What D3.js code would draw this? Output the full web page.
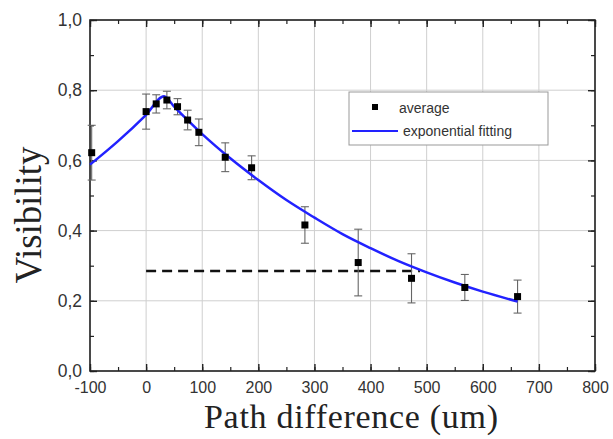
<!DOCTYPE html>
<html><head><meta charset="utf-8">
<script src="https://cdn.jsdelivr.net/npm/d3@7"></script>
<style>body{margin:0;background:#fff}svg{display:block}</style>
</head><body>
<svg id="c" width="613" height="439"></svg>
<script>
// Measured data (averages with error bars)
const xs   = [-97, 0, 18, 37, 56, 74, 94, 141, 188, 283, 378, 473, 568, 662];
const ys   = [0.622, 0.739, 0.761, 0.772, 0.753, 0.715, 0.680, 0.609, 0.579, 0.416, 0.309, 0.264, 0.238, 0.212];
const errs = [0.078, 0.050, 0.026, 0.025, 0.023, 0.028, 0.038, 0.041, 0.034, 0.052, 0.095, 0.070, 0.037, 0.047];
// Exponential fitting curve
const fitX = [-100, -50, 0, 32, 50, 100, 150, 200, 250, 300, 350, 400, 450, 500, 550, 600, 662];
const fitY = [0.588, 0.655, 0.730, 0.783, 0.753, 0.675, 0.606, 0.544, 0.487, 0.437, 0.390, 0.350, 0.313, 0.281, 0.252, 0.226, 0.198];
// Dashed reference line
const dashX = [0, 488];
const dashY = [0.285, 0.285];
const xTicks = [-100, 0, 100, 200, 300, 400, 500, 600, 700, 800];
const yTicks = [0, 0.2, 0.4, 0.6, 0.8, 1.0];

const svg = d3.select("#c");
const L = 90, R = 595, T = 20, B = 371;
const x = d3.scaleLinear().domain([-100, 800]).range([L, R]);
const y = d3.scaleLinear().domain([0, 1]).range([B, T]);
const fmt = d => d3.format(".1f")(d).replace(".", ",");

// grid
const g = svg.append("g");
g.selectAll(".gx").data(xTicks).join("line")
  .attr("x1", d => x(d)).attr("x2", d => x(d)).attr("y1", T).attr("y2", B)
  .attr("stroke", "#cfcfcf").attr("stroke-width", 1);
g.selectAll(".gy").data(yTicks).join("line")
  .attr("x1", L).attr("x2", R).attr("y1", d => y(d)).attr("y2", d => y(d))
  .attr("stroke", "#cfcfcf").attr("stroke-width", 1);

// axes (ticks inside)
const minorX = d3.range(-100, 801, 50);
const minorY = d3.range(0, 1.001, 0.1);
function addAxis(axisGen, tr, major, minor, showLabels) {
  const a = svg.append("g").attr("transform", tr);
  a.call(axisGen.tickValues(minor).tickSize(-4).tickFormat(""));
  a.select(".domain").remove();
  a.selectAll("line").attr("stroke", "#222").attr("stroke-width", 1.2);
  const b = svg.append("g").attr("transform", tr);
  b.call(axisGen.tickValues(major).tickSize(-7).tickPadding(8).tickFormat(showLabels));
  b.select(".domain").remove();
  b.selectAll("line").attr("stroke", "#222").attr("stroke-width", 1.4);
  b.selectAll("text").attr("font-family", "Liberation Sans, Arial, sans-serif")
    .attr("font-size", 16).attr("fill", "#333");
  return b;
}
const bx = addAxis(d3.axisBottom(x), `translate(0,${B})`, xTicks, minorX, d => d);
bx.selectAll("text").attr("dy", "0.9em").attr("y", 8);
addAxis(d3.axisTop(x), `translate(0,${T})`, xTicks, minorX, () => "");
const ly = addAxis(d3.axisLeft(y), `translate(${L},0)`, yTicks, minorY, fmt);
ly.selectAll("text").attr("x", -8).attr("font-size", 17.5);
addAxis(d3.axisRight(y), `translate(${R},0)`, yTicks, minorY, () => "");

// frame
svg.append("rect").attr("x", L).attr("y", T).attr("width", R - L).attr("height", B - T)
  .attr("fill", "none").attr("stroke", "#222").attr("stroke-width", 1.6);

// dashed line
svg.append("path")
  .attr("d", d3.line()(dashX.map((d, i) => [x(d), y(dashY[i])])))
  .attr("stroke", "#111").attr("stroke-width", 2.5).attr("stroke-dasharray", "10,6").attr("fill", "none");

// error bars
const eb = svg.append("g").attr("stroke", "#666").attr("stroke-width", 1.1);
xs.forEach((xv, i) => {
  const cx = x(xv), top = y(ys[i] + errs[i]), bot = y(ys[i] - errs[i]);
  eb.append("line").attr("x1", cx).attr("x2", cx).attr("y1", top).attr("y2", bot);
  eb.append("line").attr("x1", cx - 4).attr("x2", cx + 4).attr("y1", top).attr("y2", top);
  eb.append("line").attr("x1", cx - 4).attr("x2", cx + 4).attr("y1", bot).attr("y2", bot);
});

// fit curve
svg.append("path")
  .attr("d", d3.line().curve(d3.curveMonotoneX)(fitX.map((d, i) => [x(d), y(fitY[i])])))
  .attr("stroke", "#2222ff").attr("stroke-width", 2.5).attr("fill", "none");

// markers
svg.selectAll(".pt").data(xs).join("rect")
  .attr("x", (d) => x(d) - 3.5).attr("y", (d, i) => y(ys[i]) - 3.5)
  .attr("width", 7).attr("height", 7).attr("fill", "#000");

// legend
const lg = svg.append("g");
lg.append("rect").attr("x", 349).attr("y", 92).attr("width", 199).attr("height", 53)
  .attr("fill", "#fff").attr("stroke", "#999").attr("stroke-width", 1);
lg.append("rect").attr("x", 372).attr("y", 104).attr("width", 6).attr("height", 6).attr("fill", "#000");
lg.append("text").attr("x", 399).attr("y", 113).text("average")
  .attr("font-family", "Liberation Sans, Arial, sans-serif").attr("font-size", 14).attr("fill", "#333");
lg.append("line").attr("x1", 352).attr("x2", 398).attr("y1", 131).attr("y2", 131)
  .attr("stroke", "#2222ff").attr("stroke-width", 2);
lg.append("text").attr("x", 403).attr("y", 136).text("exponential fitting")
  .attr("font-family", "Liberation Sans, Arial, sans-serif").attr("font-size", 14).attr("fill", "#333");

// axis titles
svg.append("text").attr("x", 351).attr("y", 428).attr("text-anchor", "middle")
  .attr("font-family", "Liberation Serif, Times New Roman, serif").attr("font-size", 34).attr("fill", "#222")
  .attr("textLength", 294)
  .text("Path difference (um)");
svg.append("text").attr("transform", `translate(41,215) rotate(-90)`).attr("text-anchor", "middle")
  .attr("font-family", "Liberation Serif, Times New Roman, serif").attr("font-size", 37).attr("fill", "#222")
  .attr("textLength", 137)
  .text("Visibility");
</script>
</body></html>
